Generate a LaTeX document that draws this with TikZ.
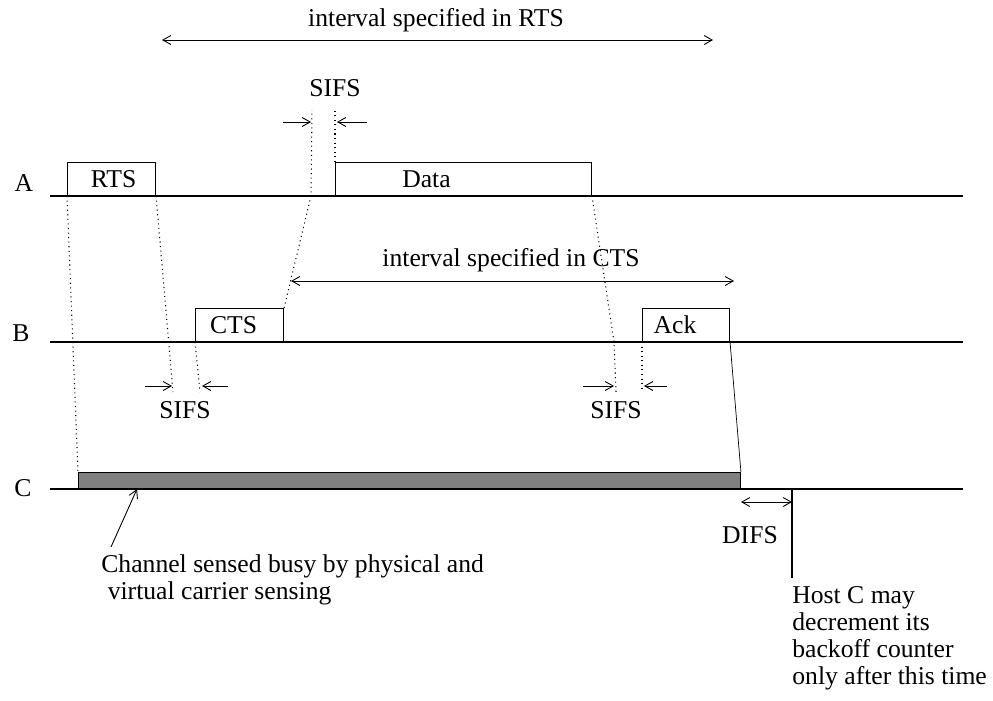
\documentclass[tikz,border=0pt]{standalone}
\usepackage{fontspec}
\setmainfont{Liberation Serif}
\usetikzlibrary{positioning,calc,arrows.meta}

\begin{document}
\begin{tikzpicture}[x=0.02cm,y=-0.02cm,
    font=\fontsize{14.6}{15.4}\selectfont,
    lane/.style={line width=0.7pt},
    pkt/.style={draw,line width=0.6pt,inner sep=0pt,minimum height=0.66cm,anchor=south west},
    gap/.style={dotted,line width=0.6pt},
    tip/.style={-{Straight Barb[length=1.6mm,width=1.8mm]},line width=0.5pt},
    span/.style={{Straight Barb[length=1.6mm,width=1.8mm]}-{Straight Barb[length=1.6mm,width=1.8mm]},line width=0.5pt}]
    \useasboundingbox (0,0) rectangle (993,700);

    % stations and their time lines
    \node (labA) at (24,183) {A};
    \node (labB) at (21,333) {B};
    \node (labC) at (23,488) {C};
    \coordinate (A0) at (50,196); \coordinate (A1) at (963,196);
    \coordinate (B0) at (50,342); \coordinate (B1) at (963,342);
    \coordinate (C0) at (50,489); \coordinate (C1) at (963,489);
    \draw[lane] (A0) -- (A1);
    \draw[lane] (B0) -- (B1);
    \draw[lane] (C0) -- (C1);

    % frames
    \node[pkt,minimum width=1.76cm,label={[xshift=0.04cm]center:RTS}] (rts) at (67,196) {};
    \node[pkt,minimum width=1.76cm,label={[xshift=-0.12cm]center:CTS}] (cts) at (195,342) {};
    \node[pkt,minimum width=5.12cm,label={[xshift=-0.74cm]center:Data}] (data) at (335,196) {};
    \node[pkt,minimum width=1.74cm,label={[xshift=-0.22cm]center:Ack}] (ack) at (642,342) {};
    \node[pkt,fill=gray,minimum width=13.24cm,minimum height=0.32cm] (busy) at (78,489) {};

    % propagation
    \coordinate (s1a) at (173,392);
    \coordinate (s1b) at (200,392);
    \coordinate (s2a) at (311,196);
    \coordinate (s2b) at (312,110);
    \coordinate (s2c) at (335,110);
    \coordinate (s3a) at (614,342);
    \coordinate (s3b) at (616,392);
    \coordinate (s3c) at (642,388);
    \draw[gap] (rts.south west) -- (busy.north west);
    \draw[gap] (rts.south east) -- (s1a);
    \draw[gap] (cts.south west) -- (s1b);
    \draw[gap] (cts.north east) -- (s2a) -- (s2b);
    \draw[gap] (data.north west) -- (s2c);
    \draw[gap] (data.south east) -- (s3a) -- (s3b);
    \draw[gap] (ack.south west) -- (s3c);
    \draw[line width=0.4pt] (ack.south east) -- (busy.north east);

    % SIFS gaps
    \draw[tip] (145,386) -- (172,386);
    \draw[tip] (228,386) -- (202,386);
    \node (sifs1) at (185,410) {SIFS};
    \draw[tip] (283,122) -- (311,122);
    \draw[tip] (367,122) -- (337,122);
    \node (sifs2) at (335,88) {SIFS};
    \draw[tip] (583,386) -- (614,386);
    \draw[tip] (667,386) -- (644,386);
    \node (sifs3) at (616,410) {SIFS};

    % NAV intervals
    \coordinate (rtsL) at (162,40); \coordinate (rtsR) at (713,40);
    \draw[span] (rtsL) -- (rtsR);
    \node (navrts) at (436,20) {interval specified in RTS};
    \coordinate (ctsL) at (291,281); \coordinate (ctsR) at (734,281);
    \draw[span] (ctsL) -- (ctsR);
    \node (navcts) at (511,260) {interval specified in CTS};

    % DIFS
    \coordinate (difsR) at (792,502);
    \coordinate (hostTop) at (792,489); \coordinate (hostBot) at (792,578);
    \draw[span] (busy.south east |- difsR) -- (difsR);
    \draw[lane] (hostTop) -- (hostBot);
    \node (difs) at (750,535) {DIFS};
    \node[align=left,anchor=north west,inner sep=0pt] (hostnote) at (792,586)
        {Host C may\\decrement its\\backoff counter\\only after this time};

    % busy note
    \node[align=left,anchor=north west,inner sep=0pt] (busynote) at (101,554)
        {Channel sensed busy by physical and\\ \ virtual carrier sensing};
    \coordinate (busyPt) at (137,489);
    \draw[tip] ($(busynote.north west)+(10,-7)$) -- (busyPt);
\end{tikzpicture}
\end{document}
